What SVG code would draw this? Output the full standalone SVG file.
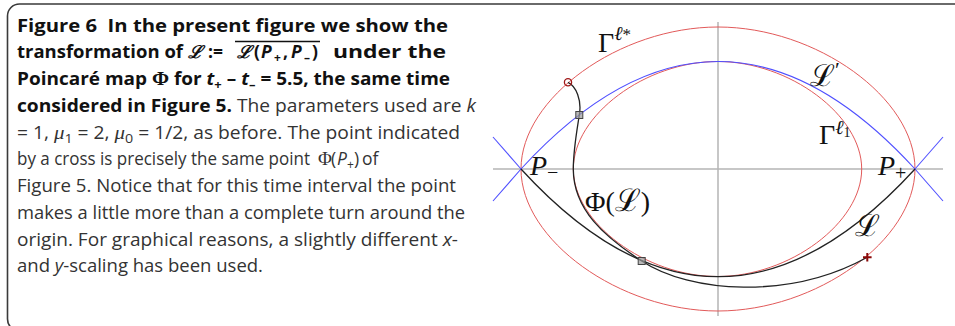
<svg xmlns="http://www.w3.org/2000/svg" width="955" height="326" viewBox="0 0 955 326">
<style>
.cap{font-family:"Open Sans","Noto Sans","DejaVu Sans",sans-serif;font-size:17.5px;fill:#333;white-space:pre}
.b{font-weight:bold;fill:#111}
.it{font-style:italic}
.m{font-family:"Liberation Serif","DejaVu Serif",serif;font-size:19px}
.scr{font-family:"DejaVu Serif",serif}
.lbl{font-family:"Liberation Serif","DejaVu Serif",serif;font-size:28px;fill:#111}
.ax{stroke:#b4b4b4;stroke-width:1.5;fill:none}
.red{stroke:#e25a5a;stroke-width:1;fill:none}
.blue{stroke:#4f4fff;stroke-width:1.1;fill:none}
.blk{stroke:#222;stroke-width:1.3;fill:none}
.sq{fill:#9a9a9a;fill-opacity:0.7;stroke:#444;stroke-width:1}
</style>

<rect id="frame" x="7.5" y="4" width="1000" height="327" rx="12" fill="none" stroke="#3a3a3a" stroke-width="1.6"/>

<g id="caption">
<text class="cap b" x="17" y="31.5" textLength="431" lengthAdjust="spacingAndGlyphs">Figure 6  In the present figure we show the</text>
<text class="cap b" x="17" y="58.25" textLength="166" lengthAdjust="spacingAndGlyphs">transformation of</text>
<text class="cap b" y="58.25"><tspan class="scr it" x="188">ℒ</tspan><tspan x="208">:=</tspan><tspan class="scr it" x="237">ℒ</tspan><tspan x="254">(</tspan><tspan class="it" x="261">P</tspan><tspan x="274" dy="4" font-size="12">+</tspan><tspan x="283" dy="-4">,</tspan><tspan class="it" x="291">P</tspan><tspan x="304" dy="4" font-size="12">–</tspan><tspan x="312" dy="-4">)</tspan></text>
<text class="cap b" x="333" y="58.25" textLength="113" lengthAdjust="spacingAndGlyphs">under the</text>
<line x1="235" y1="41.5" x2="320" y2="41.5" stroke="#111" stroke-width="1.5"/>
<text class="cap b" x="17" y="85" textLength="433" lengthAdjust="spacingAndGlyphs">Poincaré map <tspan class="m">Φ</tspan> for <tspan class="it">t</tspan><tspan dy="4" font-size="12">+</tspan><tspan dy="-4"> – </tspan><tspan class="it">t</tspan><tspan dy="4" font-size="12">–</tspan><tspan dy="-4"> = 5.5, the same time</tspan></text>
<text class="cap" x="17" y="111.75" textLength="459" lengthAdjust="spacingAndGlyphs"><tspan class="b">considered in Figure 5.</tspan> The parameters used are <tspan class="it">k</tspan></text>
<text class="cap" x="17" y="138.5" textLength="443" lengthAdjust="spacingAndGlyphs">= 1, <tspan class="m it">μ</tspan><tspan dy="4" font-size="13">1</tspan><tspan dy="-4"> = 2, </tspan><tspan class="m it">μ</tspan><tspan dy="4" font-size="13">0</tspan><tspan dy="-4"> = 1/2, as before. The point indicated</tspan></text>
<text class="cap" x="17" y="165.25" textLength="293" lengthAdjust="spacingAndGlyphs">by a cross is precisely the same point</text>
<text class="cap" y="165.25"><tspan class="m" x="318">Φ</tspan><tspan x="331">(</tspan><tspan class="it" x="337">P</tspan><tspan x="347" dy="4" font-size="12">+</tspan><tspan x="354" dy="-4">)</tspan><tspan x="362">of</tspan></text>
<text class="cap" x="17" y="192" textLength="439" lengthAdjust="spacingAndGlyphs">Figure 5. Notice that for this time interval the point</text>
<text class="cap" x="17" y="218.75" textLength="448" lengthAdjust="spacingAndGlyphs">makes a little more than a complete turn around the</text>
<text class="cap" x="17" y="245.5" textLength="441" lengthAdjust="spacingAndGlyphs">origin. For graphical reasons, a slightly different <tspan class="it">x</tspan>-</text>
<text class="cap" x="17" y="272.25" textLength="246" lengthAdjust="spacingAndGlyphs">and <tspan class="it">y</tspan>-scaling has been used.</text>
</g>

<g id="axes">
<line class="ax" x1="493" y1="169" x2="943" y2="169"/>
<line class="ax" x1="718" y1="22" x2="718" y2="316"/>
</g>

<g id="connectors">
<path id="gamma-star" class="red" d="M915,169 C915,240 816.5,311 718,311 C619.5,311 521,240 521,169 C521,98 619.5,27 718,27 C816.5,27 915,98 915,169 Z"/>
<path id="gamma-l1" class="red" d="M861.7,169 C861.7,222.75 789.6,276.5 717.5,276.5 C645.4,276.5 573.3,222.75 573.3,169 C573.3,115.25 645.4,61.5 717.5,61.5 C789.6,61.5 861.7,115.25 861.7,169 Z"/>
<path id="L-prime" class="blue" d="M493,201 L521,169 Q718,-46 915,169 L943,201"/>
<path class="blue" d="M493,137 L521,169"/>
<path class="blue" d="M943,137 L915,169"/>
<path id="L" class="blk" d="M521,169 Q718,384.4 915,169"/>
<path id="phi-L" class="blk" d="M568,82.3 C576,86 582,100 579.3,115 C577,130 573.3,150 573.3,169 C573.3,210 605,237 641.7,261 C690,293 790,300 867.3,257.3"/>
</g>

<g id="markers">
<circle cx="568" cy="82.3" r="3.6" fill="none" stroke="#a01818" stroke-width="1.3"/>
<rect class="sq" x="575.8" y="111.5" width="7" height="7"/>
<rect class="sq" x="638.2" y="257.5" width="7" height="7"/>
<path d="M863,257.3 H871.6 M867.3,253 V261.6" stroke="#8b0a0a" stroke-width="2" fill="none"/>
</g>

<g id="labels">
<text class="lbl" x="598" y="52">Γ<tspan font-size="20" dy="-12" class="it">ℓ</tspan><tspan font-size="17">*</tspan></text>
<text class="lbl" x="819" y="144">Γ<tspan font-size="20" dy="-10" class="it">ℓ</tspan><tspan font-size="14" dy="3">1</tspan></text>
<text class="lbl" x="810" y="86"><tspan class="scr" font-size="30">ℒ</tspan><tspan font-size="22" dy="-9">′</tspan></text>
<text class="lbl" x="530" y="175"><tspan class="it">P</tspan><tspan font-size="20" dy="4">−</tspan></text>
<text class="lbl" x="878" y="175"><tspan class="it">P</tspan><tspan font-size="20" dy="5">+</tspan></text>
<text class="lbl" x="585" y="211">Φ(<tspan class="scr" font-size="31">ℒ</tspan>)</text>
<text class="lbl" x="855" y="236"><tspan class="scr" font-size="30">ℒ</tspan></text>
</g>
</svg>
